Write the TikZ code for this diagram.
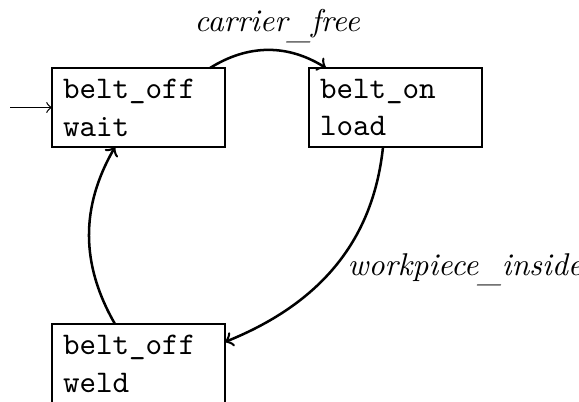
\documentclass[tikz,border=0pt]{standalone}
\usetikzlibrary{calc}
\newcommand{\lowus}{\raisebox{-2.2pt}{\_}}
\begin{document}
\begin{tikzpicture}[x=0.3175pt,y=0.3175pt,
  state/.style={draw, thick, rectangle, anchor=north west, font=\ttfamily,
    align=left, text width=47.9pt, inner xsep=3.5pt, inner ysep=0pt,
    minimum height=25.1pt, outer sep=0pt},
  trans/.style={thick, ->},
  initarrow/.style={thin, ->},
  lbl/.style={inner sep=0pt, font=\itshape}]
\useasboundingbox (0,0) rectangle (579,-402);
\clip (0,0) rectangle (579,-402);
\node[state] (w) at (52,-68) {belt\_off\\wait};
\node[state] (l) at (309,-68) {belt\_on\\load};
\node[state] (d) at (52,-324) {belt\_off\\weld};
\coordinate (start) at (10,-107.5);
\draw[initarrow] (start) -- (start -| w.west);
\draw[trans] ($(w.north west)+(158,0)$) to[out=32,in=148] ($(l.north west)+(17,0)$);
\draw[trans] ($(l.south west)+(74,0)$) to[out=-96,in=22] ($(d.north east)+(0,-18)$);
\draw[trans] ($(d.north west)+(63,0)$) to[out=120,in=240] ($(w.south west)+(63,0)$);
\node[lbl, anchor=base west] (cf) at (194,-32) {carrier\lowus free};
\node[lbl, anchor=base west] (wi) at (347,-275) {workpiece\lowus inside};
\end{tikzpicture}
\end{document}
